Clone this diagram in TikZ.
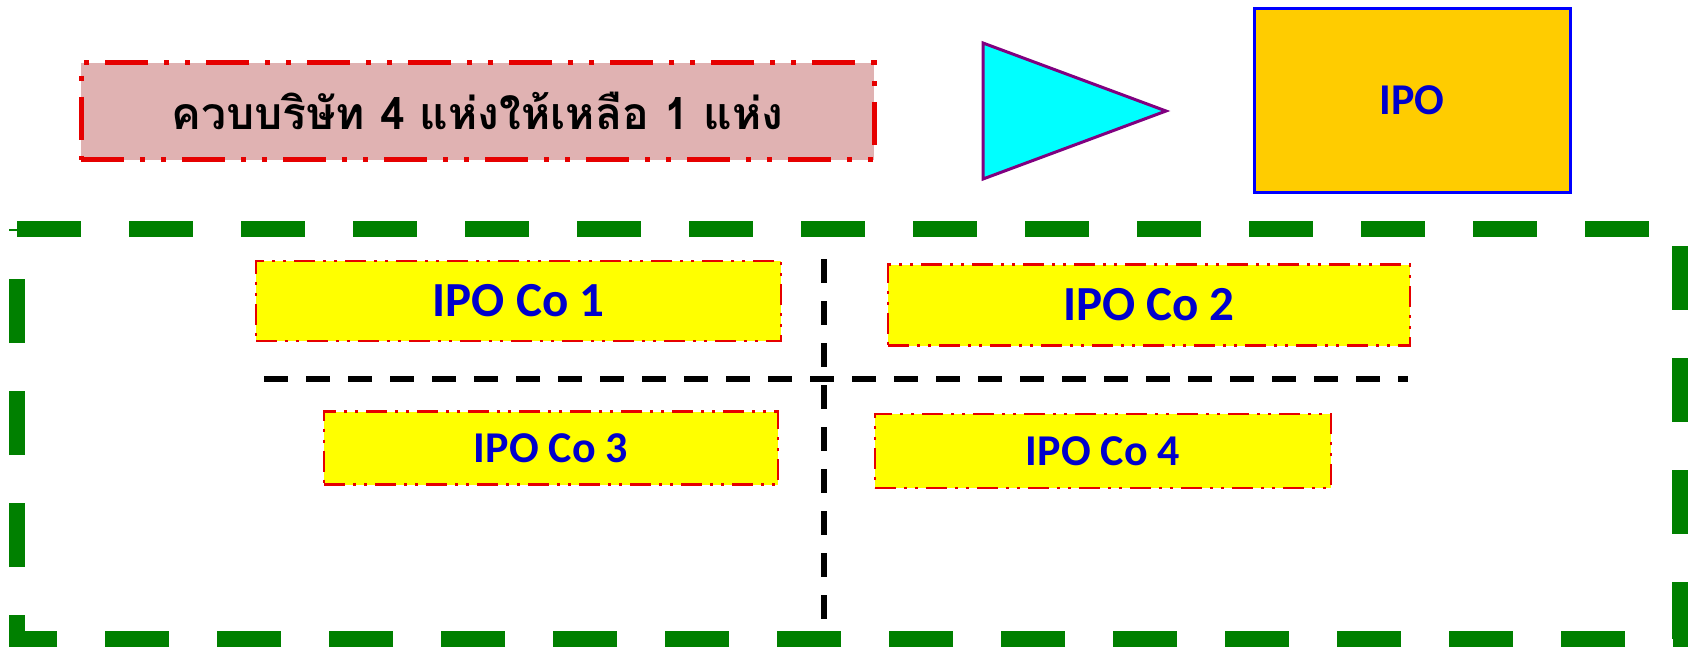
\documentclass[tikz,border=0pt]{standalone}
\usepackage{fontspec}
\setmainfont{Carlito}
\newfontfamily\thaifont[Script=Thai]{Loma}
\usetikzlibrary{positioning}
\definecolor{titlefill}{RGB}{224,178,178}
\definecolor{redline}{RGB}{230,0,0}
\definecolor{ipogold}{RGB}{255,204,0}
\definecolor{textblue}{RGB}{0,0,204}
\definecolor{groupgreen}{RGB}{0,128,0}
\definecolor{trianglerim}{RGB}{128,0,128}
\definecolor{trianglefill}{RGB}{0,255,255}
\definecolor{coyellow}{RGB}{255,255,0}
\tikzstyle{titlebox} = [rectangle, draw=redline, fill=titlefill, line width=5pt,
    dash pattern=on 43pt off 16pt on 5pt off 16pt on 5pt off 16pt,
    minimum width=793pt, minimum height=97pt, inner sep=0pt, text centered]
\tikzstyle{cobox} = [rectangle, draw=redline, fill=coyellow, line width=2.5pt,
    dash pattern=on 21pt off 8pt on 3pt off 8pt on 3pt off 8pt,
    inner sep=0pt, text=textblue, font=\bfseries\fontsize{49}{58}\selectfont]
\tikzstyle{divider} = [black, line width=6pt, dash pattern=on 24pt off 18pt]
\tikzstyle{groupline} = [draw=groupgreen, line width=16pt, dash pattern=on 64pt off 48pt]

\begin{document}
\begin{tikzpicture}[x=1pt, y=-1pt]
    \useasboundingbox (0,0) rectangle (1692,649);

    \node (title) [titlebox] at (477.5,111)
        {\thaifont\bfseries\fontsize{44.5}{53}\selectfont ควบบริษัท 4 แห่งให้เหลือ 1 แห่ง};
    \draw [fill=trianglefill, draw=trianglerim, line width=3pt]
        (983,43) -- (1166,111) -- (983,179) -- cycle;
    \node (ipo) [rectangle, draw=blue, fill=ipogold, line width=3pt,
        minimum width=316pt, minimum height=184pt, text=textblue,
        font=\bfseries\fontsize{44}{53}\selectfont] at (1412,100) {IPO};

    % group of the four companies
    \draw [groupline] (17,229) -- (1680,229) -- (1680,639) -- (17,639) -- cycle;

    \node (co1) [cobox, minimum width=525pt, minimum height=80pt] at (518.5,301) {IPO Co 1};
    \node (co2) [cobox, minimum width=522pt, minimum height=81pt] at (1149,305) {IPO Co 2};
    \node (co3) [cobox, minimum width=454pt, minimum height=73pt,
        font=\bfseries\fontsize{44}{53}\selectfont] at (551,448) {IPO Co 3};
    \node (co4) [cobox, minimum width=456pt, minimum height=74pt,
        font=\bfseries\fontsize{44}{53}\selectfont] at (1103,451) {IPO Co 4};

    \coordinate (vtop) at (824,259);
    \coordinate (vbot) at (824,620);
    \coordinate (hleft) at (264,379);
    \coordinate (hright) at (1408,379);
    \draw [divider] (vtop) -- (vbot);
    \draw [divider] (hleft) -- (hright);
\end{tikzpicture}
\end{document}
